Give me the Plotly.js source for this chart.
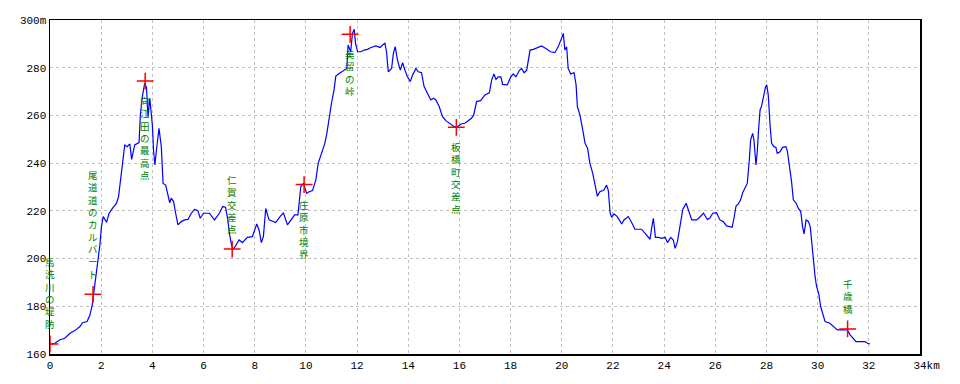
<!DOCTYPE html>
<html>
<head>
<meta charset="utf-8">
<script src="https://cdn.plot.ly/plotly-3.0.1.min.js"></script>
<style>html,body{margin:0;padding:0;background:#fff;}#chart{width:960px;height:384px;}</style>
</head>
<body>
<div id="chart"></div>
<script>
// Elevation profile: distance (km) and elevation (m)
var distKm = [0,0.19,0.39,0.58,0.78,0.97,1.17,1.27,1.45,1.56,1.65,1.73,1.82,1.90,1.95,2.01,2.08,2.21,2.31,2.44,2.60,2.68,2.79,2.92,3.01,3.12,3.19,3.31,3.48,3.53,3.61,3.70,3.77,3.83,3.90,4.00,4.05,4.10,4.16,4.26,4.35,4.42,4.52,4.61,4.68,4.74,4.83,4.91,5.00,5.13,5.26,5.39,5.52,5.65,5.78,5.87,6.00,6.23,6.43,6.62,6.75,6.86,6.95,7.01,7.10,7.17,7.26,7.39,7.52,7.71,7.91,8.08,8.17,8.26,8.34,8.43,8.56,8.82,8.99,9.12,9.28,9.43,9.56,9.69,9.80,9.90,10.03,10.13,10.26,10.39,10.48,10.61,10.74,10.82,10.91,11.00,11.10,11.17,11.30,11.49,11.60,11.65,11.75,11.82,11.89,11.94,12.02,12.15,12.28,12.41,12.54,12.74,12.90,13.00,13.09,13.15,13.22,13.35,13.42,13.49,13.58,13.69,13.78,13.87,13.97,14.08,14.17,14.30,14.39,14.52,14.62,14.75,14.88,14.99,15.08,15.21,15.34,15.47,15.67,15.80,15.93,16.06,16.21,16.47,16.56,16.67,16.83,16.93,17.00,17.17,17.26,17.35,17.43,17.52,17.62,17.69,17.87,18.00,18.10,18.21,18.34,18.43,18.53,18.63,18.69,18.76,18.89,19.04,19.21,19.38,19.56,19.73,19.86,19.99,20.06,20.12,20.19,20.25,20.35,20.48,20.56,20.61,20.71,20.82,20.91,21.01,21.10,21.21,21.30,21.39,21.49,21.65,21.75,21.82,21.89,21.95,22.04,22.15,22.25,22.34,22.43,22.60,22.73,22.86,23.12,23.25,23.38,23.45,23.52,23.58,23.66,23.78,23.91,24.04,24.13,24.26,24.36,24.43,24.52,24.62,24.73,24.86,24.95,25.08,25.28,25.41,25.54,25.69,25.79,25.90,26.05,26.18,26.31,26.44,26.55,26.66,26.73,26.81,26.90,26.99,27.07,27.16,27.25,27.33,27.38,27.46,27.51,27.59,27.64,27.69,27.75,27.81,27.88,27.96,28.01,28.07,28.14,28.20,28.29,28.37,28.42,28.53,28.63,28.76,28.82,28.89,28.98,29.05,29.16,29.25,29.34,29.41,29.47,29.55,29.64,29.71,29.77,29.84,29.90,29.96,30.04,30.12,30.20,30.29,30.48,30.62,30.77,31.00,31.16,31.27,31.40,31.50,31.72,31.85,31.95,32.05];
var elevM = [164,164.5,166,166.6,168.7,169.8,171.5,173.1,173.6,176.3,180.5,186.8,193.8,201,205.7,213.4,217.6,215.2,219,221,223.2,226,237,247.6,246.9,248,241.6,247.6,248.6,260.2,267.9,273.5,271.8,259.5,267.2,256,244.8,239.2,245.5,254.6,246.9,231.5,230.8,226.6,223.4,225.3,223.9,219,214.1,215.5,216.2,216.4,219,220.6,220.1,216.9,219,219,216.2,219,221.8,221.5,216.2,210.6,205.3,203.9,205.7,207.8,206.7,208.9,209.2,214.5,212,206.7,209.2,221,216.2,215.1,217.6,219.2,214.1,216.2,218.3,218.3,230.1,231.5,227.3,228,228.5,233,239.9,244.1,248.3,252.5,259.5,265.1,270.7,276.5,277.6,279,279.7,289.5,286.7,294.4,296.1,290.2,286.7,286.7,287.4,287.7,288.5,289.1,288.5,289.5,290.2,286.7,278.3,279.7,286,288.8,283.2,279,282.1,279,276.2,274.2,276.9,279.7,278.3,277.9,272.1,269.3,266.5,267.2,266.5,263.7,259.5,257.8,256.4,255.3,255.3,256.4,256.7,258.8,260.2,265.8,266.2,267.6,268.6,269.5,274.8,277.4,275.1,276.2,276.2,273,272.8,276,277.4,276.2,278.8,279.7,277.9,279,282.5,287.4,287.7,288.5,289.1,288.1,286.7,286.3,288.8,292.3,294.4,287.4,288.8,279.7,277.4,277.9,272.8,263.7,260.2,253.9,248.3,246.2,239.9,235.7,230.8,226.2,228,228.7,230.8,228.5,219,217.3,218.7,217.8,216.2,214.5,216.2,217.6,215.1,212.3,212.3,210.6,209.2,208.1,213.4,216.9,208.9,208.9,208.5,208.9,206.7,208.9,207.8,204.3,207.1,213.4,220.6,223.2,220.1,216.2,216.2,217.8,219,216.4,217,219,219.2,216.2,215.5,213.7,213.4,213.1,216.9,222,222.9,224.6,227.6,229.4,231.5,241.3,249.7,252.5,249.7,239.2,244.8,253.9,262.3,264,267.9,271.8,272.8,268.6,256,248.3,246.9,246.6,244.1,244.8,246.6,246.9,244.8,239.9,232.2,224.6,223.2,221,219.7,213.4,210.3,216.2,215.5,213.4,206.4,200.1,192.4,188.2,185.4,179.8,176.3,173.6,172.9,171.5,170.1,170.1,170.1,168,166.6,165.2,165.2,165.2,164.5,164.2];

// Waypoints
var pointKm = [0, 1.68, 3.72, 7.12, 9.93, 11.73, 15.88, 31.17];
var pointElev = [164.2, 185, 274.4, 204, 231, 294, 255, 170.5];
var pointNames = ["馬洗川の堤防", "尾道道のカルバート", "向江田の最高点", "仁賀交差点", "庄原市境界", "美留の峠", "板橋町交差点", "千歳橋"];
var labelSide = ["above", "above", "below", "above", "below", "below", "below", "above"];

// Axis ticks
var xTickVals = [0,2,4,6,8,10,12,14,16,18,20,22,24,26,28,30,32,34];
var xTickText = ["0","2","4","6","8","10","12","14","16","18","20","22","24","26","28","30","32","\u00a0\u00a034km"];
var yTickVals = [160,180,200,220,240,260,280,300];
var yTickText = ["160","180","200","220","240","260","280","300m"];

// Vertical labels: one annotation per name, one character per line
var annotations = pointNames.map(function(name, k){
  var above = labelSide[k] === "above";
  return {
    x: pointKm[k], y: pointElev[k], xref: "x", yref: "y",
    text: Array.from(name).join("<br>"), showarrow: false,
    xanchor: "center", yanchor: above ? "bottom" : "top",
    yshift: above ? 12 : -12, borderpad: 0, align: "center",
    font: {family: "Noto Sans CJK JP", size: 9.5, color: "#008000"}
  };
});

var traces = [
  {x: distKm, y: elevM, type: "scatter", mode: "lines", line: {color: "#0000ff", width: 1.2}, hoverinfo: "skip"},
  {x: pointKm, y: pointElev, type: "scatter", mode: "markers",
   marker: {symbol: "cross-thin", size: 12, color: "#ff0000", line: {color: "#ff0000", width: 1.5}}, hoverinfo: "skip"}
];

var tickFont = {family: "Liberation Mono, DejaVu Sans Mono, monospace", size: 11, color: "#000"};
var layout = {
  width: 960, height: 384,
  margin: {l: 50, r: 40, t: 20, b: 30},
  paper_bgcolor: "#fff", plot_bgcolor: "#fff",
  showlegend: false,
  xaxis: {range: [0, 34], tickvals: xTickVals, ticktext: xTickText, tickangle: 0,
    showgrid: true, gridcolor: "#c0c0c0", griddash: "3px,3px", gridwidth: 1,
    zeroline: false, showline: true, linecolor: "#000", linewidth: 1.5, mirror: true,
    ticks: "", tickfont: tickFont, fixedrange: true},
  yaxis: {range: [160, 300], tickvals: yTickVals, ticktext: yTickText,
    showgrid: true, gridcolor: "#c0c0c0", griddash: "3px,3px", gridwidth: 1,
    zeroline: false, showline: true, linecolor: "#000", linewidth: 1.5, mirror: true,
    ticks: "", tickfont: tickFont, fixedrange: true},
  annotations: annotations
};
Plotly.newPlot("chart", traces, layout, {displayModeBar: false, staticPlot: true});
</script>
</body>
</html>
